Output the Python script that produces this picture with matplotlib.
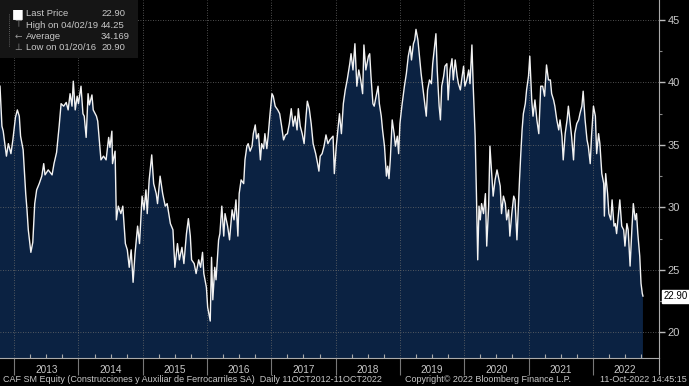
import matplotlib
matplotlib.use("Agg")
import matplotlib.pyplot as plt
from matplotlib.lines import Line2D
from matplotlib.patches import Rectangle
from matplotlib.ticker import FixedLocator, FuncFormatter

# CAF SM Equity, daily 11OCT2012-11OCT2022 (sampled off the chart, fractional years)
years = [
    2012.78, 2012.81, 2012.83, 2012.88, 2012.91, 2012.95, 2012.98, 2013.02, 2013.05, 2013.08,
    2013.10, 2013.14, 2013.18, 2013.20, 2013.22, 2013.26, 2013.29, 2013.32, 2013.35, 2013.39,
    2013.43, 2013.46, 2013.48, 2013.53, 2013.59, 2013.62, 2013.66, 2013.70, 2013.73, 2013.77,
    2013.81, 2013.84, 2013.87, 2013.90, 2013.92, 2013.95, 2013.98, 2014.00, 2014.04, 2014.07,
    2014.09, 2014.12, 2014.15, 2014.17, 2014.21, 2014.23, 2014.28, 2014.30, 2014.33, 2014.35,
    2014.39, 2014.43, 2014.47, 2014.49, 2014.52, 2014.53, 2014.57, 2014.59, 2014.62, 2014.66,
    2014.69, 2014.73, 2014.76, 2014.79, 2014.82, 2014.85, 2014.88, 2014.92, 2014.95, 2014.99,
    2015.02, 2015.05, 2015.07, 2015.10, 2015.14, 2015.17, 2015.21, 2015.23, 2015.27, 2015.31,
    2015.35, 2015.38, 2015.43, 2015.47, 2015.50, 2015.54, 2015.57, 2015.61, 2015.64, 2015.68,
    2015.71, 2015.74, 2015.76, 2015.80, 2015.83, 2015.87, 2015.90, 2015.93, 2015.95, 2015.99,
    2016.01, 2016.05, 2016.07, 2016.09, 2016.12, 2016.14, 2016.18, 2016.20, 2016.23, 2016.26,
    2016.28, 2016.32, 2016.35, 2016.39, 2016.42, 2016.45, 2016.48, 2016.50, 2016.53, 2016.57,
    2016.59, 2016.62, 2016.64, 2016.67, 2016.70, 2016.72, 2016.75, 2016.77, 2016.80, 2016.83,
    2016.85, 2016.88, 2016.90, 2016.93, 2016.95, 2016.98, 2017.01, 2017.03, 2017.06, 2017.10,
    2017.13, 2017.16, 2017.19, 2017.22, 2017.25, 2017.28, 2017.31, 2017.34, 2017.37, 2017.40,
    2017.42, 2017.45, 2017.48, 2017.51, 2017.54, 2017.56, 2017.59, 2017.62, 2017.65, 2017.69,
    2017.72, 2017.74, 2017.76, 2017.79, 2017.82, 2017.85, 2017.88, 2017.91, 2017.96, 2017.98,
    2018.01, 2018.04, 2018.06, 2018.09, 2018.12, 2018.15, 2018.18, 2018.22, 2018.24, 2018.27,
    2018.30, 2018.33, 2018.36, 2018.39, 2018.42, 2018.44, 2018.47, 2018.51, 2018.53, 2018.55,
    2018.58, 2018.60, 2018.63, 2018.66, 2018.68, 2018.71, 2018.73, 2018.76, 2018.79, 2018.81,
    2018.83, 2018.85, 2018.88, 2018.91, 2018.93, 2018.96, 2018.98, 2019.00, 2019.03, 2019.07,
    2019.10, 2019.13, 2019.16, 2019.18, 2019.21, 2019.23, 2019.25, 2019.28, 2019.30, 2019.33,
    2019.36, 2019.38, 2019.41, 2019.43, 2019.46, 2019.49, 2019.51, 2019.54, 2019.56, 2019.58,
    2019.61, 2019.63, 2019.65, 2019.68, 2019.70, 2019.73, 2019.75, 2019.78, 2019.81, 2019.83,
    2019.86, 2019.89, 2019.91, 2019.94, 2019.96, 2019.99, 2020.01, 2020.04, 2020.07, 2020.09,
    2020.12, 2020.14, 2020.17, 2020.19, 2020.21, 2020.23, 2020.25, 2020.27, 2020.30, 2020.33,
    2020.35, 2020.38, 2020.40, 2020.43, 2020.45, 2020.48, 2020.51, 2020.53, 2020.56, 2020.58,
    2020.61, 2020.64, 2020.66, 2020.69, 2020.71, 2020.74, 2020.77, 2020.79, 2020.82, 2020.84,
    2020.86, 2020.88, 2020.90, 2020.92, 2020.95, 2020.97, 2021.00, 2021.02, 2021.05, 2021.07,
    2021.10, 2021.13, 2021.16, 2021.19, 2021.22, 2021.25, 2021.28, 2021.31, 2021.34, 2021.36,
    2021.39, 2021.41, 2021.44, 2021.47, 2021.49, 2021.52, 2021.54, 2021.57, 2021.60, 2021.62,
    2021.65, 2021.67, 2021.70, 2021.72, 2021.75, 2021.78, 2021.80, 2021.83, 2021.85, 2021.88,
    2021.91, 2021.93, 2021.96, 2021.98, 2022.01, 2022.04, 2022.06, 2022.09, 2022.11, 2022.14,
    2022.17, 2022.18, 2022.20, 2022.23, 2022.25, 2022.28, 2022.30, 2022.33, 2022.35, 2022.37,
    2022.40, 2022.42, 2022.45, 2022.48, 2022.50, 2022.53, 2022.55, 2022.58, 2022.61, 2022.63,
    2022.66, 2022.68, 2022.70, 2022.73, 2022.75, 2022.77, 2022.78,
]
price = [
    39.7, 36.5, 36.1, 34.1, 35.1, 34.3, 35.4, 37.2, 37.8, 37.3,
    35.7, 34.6, 31.1, 29.8, 28.2, 26.4, 27.2, 30.3, 31.4, 31.9,
    32.5, 33.5, 32.6, 33.0, 32.6, 33.5, 34.4, 36.5, 38.3, 38.1,
    38.4, 37.8, 39.1, 38.1, 40.1, 37.8, 38.9, 38.3, 39.7, 37.5,
    37.3, 35.6, 39.1, 38.2, 39.0, 37.8, 37.3, 36.9, 35.1, 33.8,
    34.1, 33.8, 35.6, 34.8, 36.1, 33.5, 34.5, 29.0, 30.1, 29.5,
    30.1, 27.1, 26.6, 25.2, 26.6, 24.0, 26.3, 28.5, 27.1, 30.9,
    29.8, 31.4, 29.5, 32.2, 34.2, 31.9, 31.1, 30.3, 32.5, 31.1,
    30.1, 30.3, 28.7, 28.2, 25.2, 27.1, 25.8, 26.8, 25.5, 27.9,
    29.1, 27.7, 25.8, 25.5, 24.7, 25.8, 25.2, 26.4, 24.7, 23.6,
    22.0, 20.9, 26.0, 22.6, 25.2, 24.2, 27.4, 27.9, 30.1, 27.7,
    29.5, 28.5, 27.4, 29.8, 29.0, 30.6, 27.7, 31.1, 32.2, 31.9,
    33.8, 34.9, 35.1, 34.5, 34.9, 35.9, 36.6, 35.5, 35.9, 33.8,
    35.1, 34.7, 35.9, 34.7, 35.7, 37.5, 39.1, 38.9, 38.1, 37.8,
    37.5, 36.5, 35.4, 35.8, 35.9, 36.7, 37.9, 36.5, 37.3, 36.2,
    37.9, 36.5, 35.9, 35.1, 37.3, 38.5, 37.9, 36.7, 35.1, 34.3,
    33.5, 32.9, 34.1, 34.3, 34.9, 35.8, 35.1, 35.4, 35.7, 32.7,
    34.9, 36.5, 37.5, 35.9, 38.3, 39.4, 40.2, 41.5, 42.3, 41.0,
    43.1, 39.7, 41.0, 40.2, 39.1, 43.0, 41.0, 42.1, 42.3, 40.5,
    38.3, 38.1, 38.9, 39.7, 38.3, 37.3, 36.2, 34.9, 32.5, 33.3,
    32.3, 33.8, 37.0, 35.9, 34.9, 35.7, 34.3, 36.7, 38.1, 39.7,
    40.7, 42.1, 42.9, 41.8, 43.1, 43.4, 44.25, 43.4, 42.3, 40.7,
    39.4, 38.6, 37.3, 39.4, 40.2, 39.9, 41.5, 42.9, 43.9, 41.0,
    38.1, 37.0, 39.7, 40.5, 41.3, 41.5, 38.6, 41.0, 41.9, 40.2,
    41.8, 40.5, 39.9, 39.4, 40.2, 41.3, 39.7, 40.2, 41.0, 39.9,
    43.0, 39.7, 35.7, 31.1, 25.8, 30.1, 29.0, 30.3, 29.5, 31.1,
    26.9, 30.1, 34.9, 32.5, 30.9, 32.2, 33.0, 32.5, 31.7, 29.5,
    30.9, 30.3, 29.0, 29.8, 27.7, 29.5, 30.9, 30.6, 27.4, 29.8,
    32.2, 34.3, 36.2, 37.5, 38.3, 39.4, 40.5, 42.1, 38.6, 37.3,
    38.6, 37.0, 35.9, 39.7, 39.7, 38.9, 41.4, 40.2, 40.2, 39.1,
    38.6, 38.1, 37.0, 36.2, 37.0, 35.7, 33.8, 35.9, 37.0, 38.1,
    36.7, 35.7, 33.8, 35.9, 36.7, 37.0, 37.5, 38.1, 39.3, 37.0,
    35.4, 34.9, 33.5, 35.7, 38.1, 37.3, 34.3, 35.9, 35.1, 32.7,
    31.9, 29.3, 32.7, 31.1, 29.5, 29.0, 30.6, 28.5, 28.7, 27.9,
    29.5, 30.6, 28.5, 28.2, 26.9, 28.7, 28.2, 25.3, 28.5, 30.3,
    29.0, 29.5, 27.9, 26.1, 23.9, 23.1, 22.9,
]
year_labels = list(range(2013, 2023))
legend_rows = [
    ("Last Price", "22.90"),
    ("High on 04/02/19", "44.25"),
    ("Average", "34.169"),
    ("Low on 01/20/16", "20.90"),
]
last_price = 22.90
footer_left = "CAF SM Equity (Construcciones y Auxiliar de Ferrocarriles SA)  Daily 11OCT2012-11OCT2022"
footer_mid = "Copyright\u00a9 2022 Bloomberg Finance L.P."
footer_right = "11-Oct-2022 14:45:15"

TXT = "#c8c8c8"
GRID = "#6a6a6a"
FILL = "#0b2242"
FONT = ["Liberation Sans", "DejaVu Sans"]

fig = plt.figure(figsize=(6.89, 3.86), dpi=100, facecolor="black")
ax = fig.add_axes([0.0, 0.0725, 0.9565, 0.9275], facecolor="black")

ax.fill_between(years, price, 0, color=FILL, lw=0)
ax.plot(years, price, color="#f2f2f2", lw=1.0)

ax.set_xlim(2012.78, 2023.03)
ax.set_ylim(17.94, 46.6)

# right-hand price axis
ax.yaxis.tick_right()
ax.set_yticks([20, 25, 30, 35, 40, 45])
ax.set_yticks([22.5, 27.5, 32.5, 37.5, 42.5], minor=True)
ax.tick_params(axis="y", which="major", direction="out", length=4, width=1,
               color="#bbbbbb", labelcolor=TXT, labelsize=8, pad=2)
ax.tick_params(axis="y", which="minor", direction="out", length=2, width=0.8, color="#888888")

# year separators as long ticks, labels on the mid-year minor tick
ax.xaxis.set_major_locator(FixedLocator(year_labels))
ax.xaxis.set_major_formatter(FuncFormatter(lambda v, p: ""))
quarters = [y + q for y in range(2012, 2023) for q in (0.25, 0.5, 0.75)]
ax.xaxis.set_minor_locator(FixedLocator(quarters))
ax.xaxis.set_minor_formatter(
    FuncFormatter(lambda v, p: str(int(v)) if abs(v - int(v) - 0.5) < 0.01 and int(v) >= 2013 else ""))
ax.tick_params(axis="x", which="major", direction="out", length=12.5, width=0.8, color="#777777")
ax.tick_params(axis="x", which="minor", direction="in", length=3, width=0.8,
               color="#aaaaaa", labelcolor=TXT, labelsize=7.2, pad=5)
for lab in ax.xaxis.get_minorticklabels() + ax.yaxis.get_majorticklabels():
    lab.set_family(FONT)

ax.grid(True, which="major", color=GRID, lw=0.6, ls=(0, (1, 2)))

for s in ("top", "left"):
    ax.spines[s].set_visible(False)
for s in ("right", "bottom"):
    ax.spines[s].set_color("#aaaaaa")
    ax.spines[s].set_linewidth(0.8)
# right axis line runs on into the date strip
fig.add_artist(Line2D([0.9565, 0.9565], [0.0725, 0.03], color="#aaaaaa", lw=0.8))

# last price tag
ax.annotate(f"{last_price:.2f}", xy=(1, last_price), xycoords=("axes fraction", "data"),
            xytext=(3, 0), textcoords="offset points", va="center", ha="left",
            fontsize=7, color="black", family=FONT,
            bbox=dict(boxstyle="square,pad=0.15", fc="white", ec="white"))

# legend box top-left
fig.add_artist(Rectangle((0.0, 1 - 58 / 386), 138 / 689, 58 / 386,
                         transform=fig.transFigure, fc="#151515", ec="none"))
marks = ["\u25a0", "\u22a4", "\u2190", "\u22a5"]
for i, ((name, val), mk) in enumerate(zip(legend_rows, marks)):
    y = 1 - (14 + 11.2 * i) / 386
    fig.text(18 / 689, y, mk, color="white" if i == 0 else "#999999",
             fontsize=9 if i == 0 else 6.5, va="center", ha="center")
    fig.text(26 / 689, y, name, color=TXT, fontsize=6.8, va="center", family=FONT)
    fig.text(101 / 689, y, val, color=TXT, fontsize=6.8, va="center", family=FONT)
fig.add_artist(Line2D([9 / 689, 9 / 689], [1 - 14 / 386, 1 - 47 / 386],
                      color="#777777", lw=0.6, ls=(0, (1, 1.5))))

fig.text(3 / 689, 6 / 386, footer_left, color=TXT, fontsize=6.5, va="center", family=FONT)
fig.text(405 / 689, 6 / 386, footer_mid, color=TXT, fontsize=6.5, va="center", family=FONT)
fig.text(687 / 689, 6 / 386, footer_right, color=TXT, fontsize=6.5, va="center", ha="right",
         family=FONT)

fig.savefig("out.png", dpi=100, facecolor="black")
